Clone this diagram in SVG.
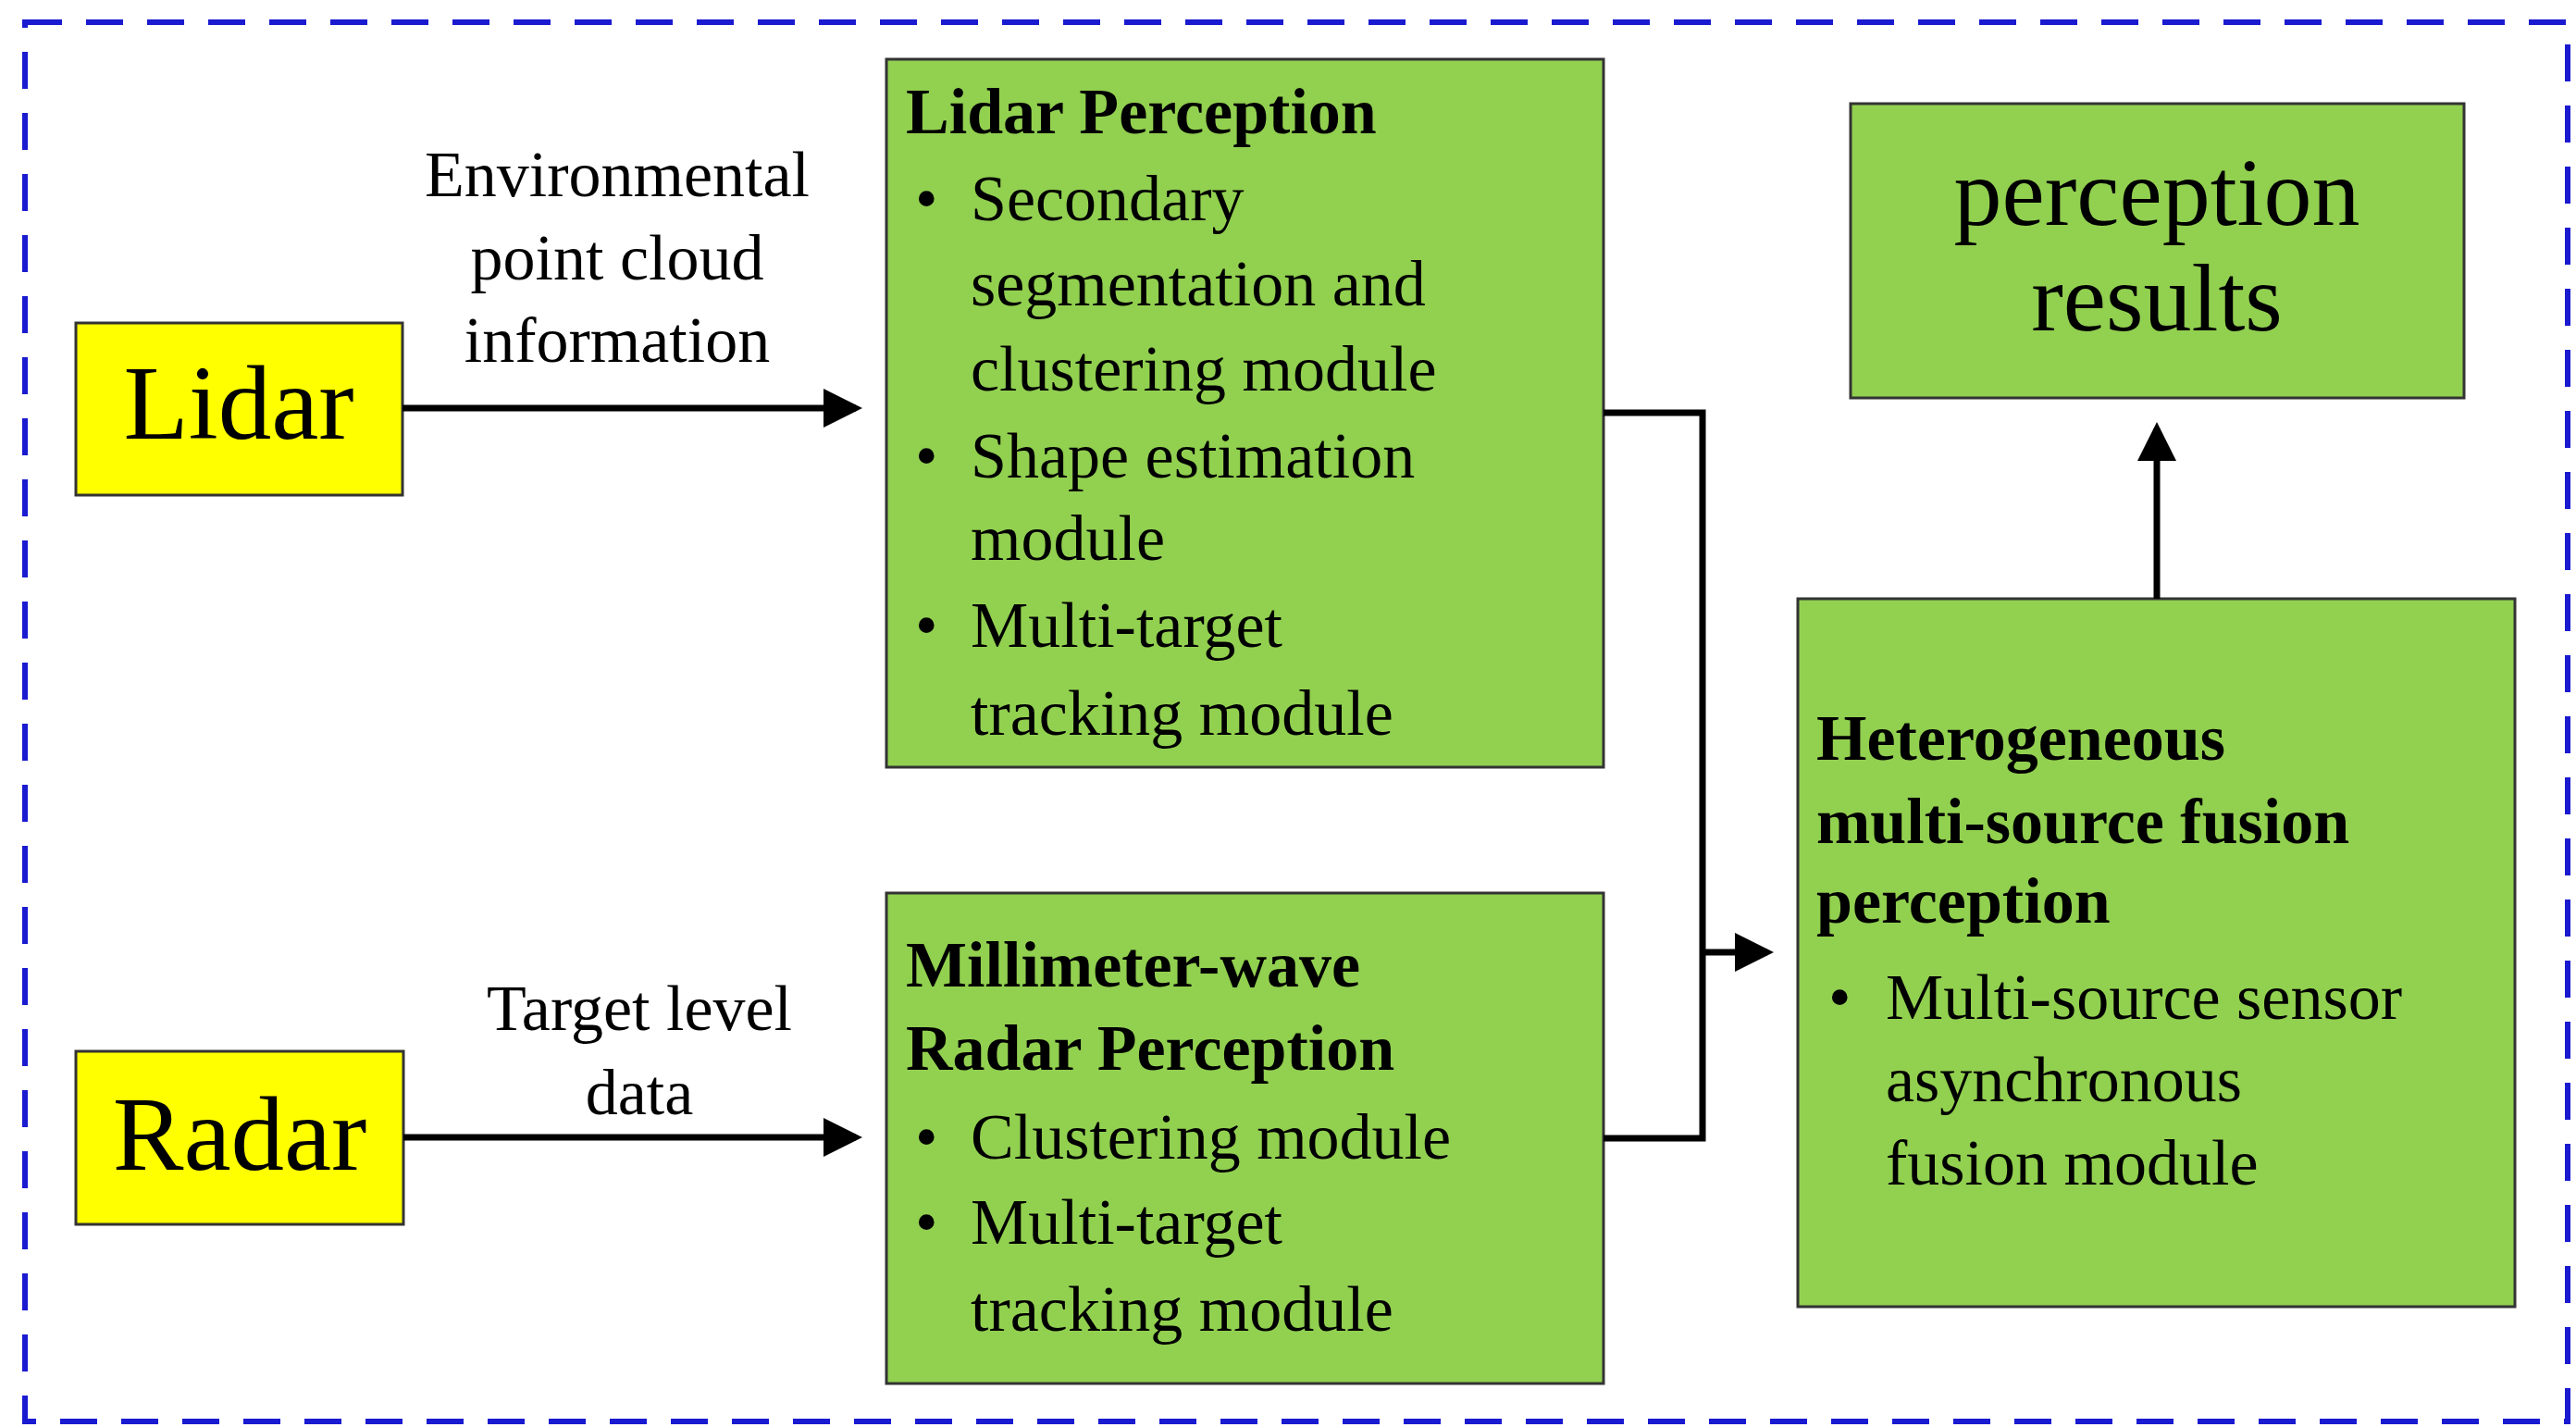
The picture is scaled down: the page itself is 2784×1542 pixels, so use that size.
<svg xmlns="http://www.w3.org/2000/svg" width="2784" height="1542" viewBox="0 0 2784 1542">
<style>
text{font-family:"Liberation Serif","DejaVu Serif",serif;fill:#000}
.t{font-size:70px}
.b{font-size:70px;font-weight:bold}
.g{fill:#92D050;stroke:#333;stroke-width:3}
.y{fill:#FFFF00;stroke:#333;stroke-width:3}
.c{fill:none;stroke:#000;stroke-width:7}
</style>
<defs><marker id="a" markerWidth="6" markerHeight="6" refX="5" refY="3" orient="auto" markerUnits="strokeWidth"><path d="M0,0L6,3L0,6z" fill="#000"/></marker></defs>
<rect x="27" y="24" width="2748" height="1512" fill="none" stroke="#1a1ad0" stroke-width="6" stroke-dasharray="40,26"/>
<g id="lidar"><rect class="y" x="82" y="349" width="353" height="186"/><text x="258" y="474" font-size="115" text-anchor="middle">Lidar</text></g>
<g id="radar"><rect class="y" x="82" y="1136" width="354" height="187"/><text x="259" y="1264" font-size="115" text-anchor="middle">Radar</text></g>
<g id="lidarp"><rect class="g" x="958" y="64" width="775" height="765"/>
<text class="b" x="979" y="144">Lidar Perception</text>
<g class="t"><text x="989" y="238">•</text><text x="1049" y="238">Secondary</text><text x="1049" y="330">segmentation and</text><text x="1049" y="422">clustering module</text>
<text x="989" y="516">•</text><text x="1049" y="516">Shape estimation</text><text x="1049" y="605">module</text>
<text x="989" y="699">•</text><text x="1049" y="699">Multi-target</text><text x="1049" y="794">tracking module</text></g></g>
<g id="radarp"><rect class="g" x="958" y="965" width="775" height="530"/>
<text class="b" x="979" y="1066">Millimeter-wave</text><text class="b" x="979" y="1156">Radar Perception</text>
<g class="t"><text x="989" y="1252">•</text><text x="1049" y="1252">Clustering module</text>
<text x="989" y="1344">•</text><text x="1049" y="1344">Multi-target</text><text x="1049" y="1438">tracking module</text></g></g>
<g id="results"><rect class="g" x="2000" y="112" width="663" height="318"/>
<text x="2331" y="243" font-size="104" text-anchor="middle">perception</text><text x="2331" y="357" font-size="104" text-anchor="middle">results</text></g>
<g id="fusion"><rect class="g" x="1943" y="647" width="775" height="765"/>
<text class="b" x="1963" y="821">Heterogeneous</text><text class="b" x="1963" y="911">multi-source fusion</text><text class="b" x="1963" y="997">perception</text>
<g class="t"><text x="1976" y="1101">•</text><text x="2038" y="1101">Multi-source sensor</text><text x="2038" y="1190">asynchronous</text><text x="2038" y="1280">fusion module</text></g></g>
<g id="labels" class="t" text-anchor="middle">
<text x="667" y="212">Environmental</text><text x="667" y="302">point cloud</text><text x="667" y="391">information</text>
<text x="691" y="1113">Target level</text><text x="691" y="1204">data</text></g>
<g id="connectors">
<path class="c" d="M435,441H925" marker-end="url(#a)"/>
<path class="c" d="M436,1229H925" marker-end="url(#a)"/>
<path class="c" d="M1733,446H1840V1230H1733"/>
<path class="c" d="M1840,1029H1910" marker-end="url(#a)"/>
<path class="c" d="M2331,647V463" marker-end="url(#a)"/>
</g>
</svg>
